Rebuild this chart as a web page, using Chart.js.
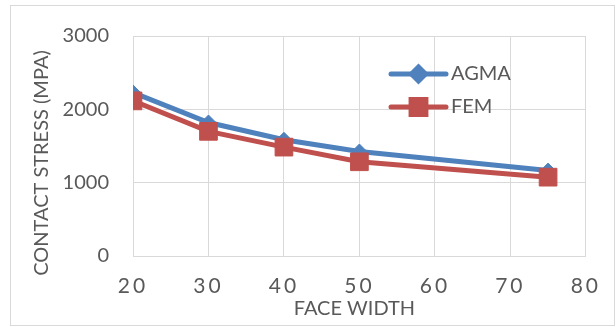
<!DOCTYPE html>
<html>
<head>
<meta charset="utf-8">
<script src="https://cdn.jsdelivr.net/npm/chart.js@4.4.1/dist/chart.umd.min.js"></script>
<style>
  html, body { margin: 0; padding: 0; background: #ffffff; }
  #wrap { width: 616px; height: 327px; position: relative; }
</style>
</head>
<body>
<div id="wrap"><canvas id="chart" width="616" height="327"></canvas></div>
<script>
// Face width (mm) and contact stress (MPa) for each method
const faceWidths = [20, 30, 40, 50, 75];
const agmaStress = [2230, 1820, 1585, 1425, 1165];
const femStress  = [2115, 1700, 1485, 1285, 1075];

const xTicks = [20, 30, 40, 50, 60, 70, 80];
const yTicks = [0, 1000, 2000, 3000];

const seriesNames = ['AGMA', 'FEM'];

const BLUE = '#4f81bd';
const RED = '#c0504d';
const TEXT = '#595959';
const GRID = '#d9d9d9';

const toPoints = (xs, ys) => xs.map((x, i) => ({ x: x, y: ys[i] }));

// Outer frame and white background
const framePlugin = {
  id: 'frame',
  beforeDraw(chart) {
    const ctx = chart.ctx;
    ctx.save();
    ctx.fillStyle = '#ffffff';
    ctx.fillRect(0, 0, chart.width, chart.height);
    ctx.strokeStyle = GRID;
    ctx.lineWidth = 1;
    ctx.strokeRect(10.5, 5.5, chart.width - 12, chart.height - 7);
    ctx.restore();
  }
};

// Axis text tweaks: spaced digits on the x labels, shifted axis titles
const axisTextPlugin = {
  id: 'axisText',
  beforeDraw(chart) {
    const xs = chart.scales.x;
    const ys = chart.scales.y;
    if (xs._tweaked) return;
    const drawX = xs.drawLabels.bind(xs);
    xs.drawLabels = function (area) {
      const c = this.ctx;
      const prev = c.letterSpacing;
      c.letterSpacing = '3px';
      drawX(area);
      c.letterSpacing = prev || '0px';
    };
    const titleX = xs.drawTitle.bind(xs);
    xs.drawTitle = function () {
      this.ctx.save();
      this.ctx.translate(-5, 0);
      titleX();
      this.ctx.restore();
    };
    const titleY = ys.drawTitle.bind(ys);
    ys.drawTitle = function () {
      this.ctx.save();
      this.ctx.translate(0, 17);
      titleY();
      this.ctx.restore();
    };
    xs._tweaked = true;
  }
};

// Legend drawn inside the plot area, entries stacked vertically
const innerLegendPlugin = {
  id: 'innerLegend',
  afterDraw(chart) {
    const ctx = chart.ctx;
    const entries = chart.data.datasets.filter(d => seriesNames.includes(d.label));
    const x0 = 391, x1 = 446, rowY = [74, 107];
    ctx.save();
    seriesNames.forEach((name, i) => {
      const ds = entries.find(d => d.label === name);
      const y = rowY[i];
      ctx.strokeStyle = ds.borderColor;
      ctx.lineWidth = ds.borderWidth;
      ctx.lineCap = 'round';
      ctx.beginPath();
      ctx.moveTo(x0, y);
      ctx.lineTo(x1, y);
      ctx.stroke();
      Chart.helpers.drawPoint(ctx, {
        pointStyle: ds.pointStyle,
        radius: ds.legendRadius,
        rotation: 0,
        borderWidth: 1
      }, (x0 + x1) / 2, y);
      ctx.fillStyle = ds.pointBackgroundColor;
      ctx.strokeStyle = ds.pointBorderColor;
      ctx.lineWidth = 1;
      ctx.fill();
      ctx.stroke();
      ctx.fillStyle = TEXT;
      ctx.font = '20px Lato';
      ctx.textBaseline = 'middle';
      ctx.textAlign = 'left';
      ctx.fillText(name, x1 + 5, y);
    });
    ctx.restore();
  }
};

new Chart(document.getElementById('chart'), {
  type: 'line',
  data: {
    datasets: [
      {
        label: 'AGMA',
        data: toPoints(faceWidths, agmaStress),
        borderColor: BLUE,
        backgroundColor: BLUE,
        borderWidth: 5,
        pointStyle: 'rectRot',
        pointRadius: 7.5,
        legendRadius: 7,
        pointBackgroundColor: BLUE,
        pointBorderColor: BLUE,
        pointBorderWidth: 1,
        tension: 0,
        order: 2
      },
      {
        label: 'FEM edge',
        data: toPoints(faceWidths, femStress),
        borderColor: '#ffffff',
        borderWidth: 7,
        pointRadius: 0,
        tension: 0,
        order: 1
      },
      {
        label: 'FEM',
        data: toPoints(faceWidths, femStress),
        borderColor: RED,
        backgroundColor: RED,
        borderWidth: 5,
        pointStyle: 'rect',
        pointRadius: 12.5,
        legendRadius: 10.5,
        pointBackgroundColor: RED,
        pointBorderColor: RED,
        pointBorderWidth: 1,
        tension: 0,
        order: 0
      }
    ]
  },
  options: {
    responsive: false,
    animation: false,
    events: [],
    layout: { padding: { left: 20, right: 30, top: 36, bottom: 6 } },
    plugins: {
      legend: { display: false },
      tooltip: { enabled: false },
      title: { display: false }
    },
    scales: {
      x: {
        type: 'linear',
        min: xTicks[0],
        max: xTicks[xTicks.length - 1],
        afterBuildTicks: s => { s.ticks = xTicks.map(v => ({ value: v })); },
        afterFit: s => { s.height = 65; },
        grid: { color: GRID, lineWidth: 1, drawTicks: false },
        border: { color: GRID, width: 1 },
        ticks: {
          color: TEXT,
          font: { family: 'Lato', size: 21 },
          padding: 18,
          maxRotation: 0,
          callback: v => String(v)
        },
        title: {
          display: true,
          text: 'FACE WIDTH',
          color: TEXT,
          font: { family: 'Lato', size: 20 },
          padding: { top: 0, bottom: 0 }
        }
      },
      y: {
        min: yTicks[0],
        max: yTicks[yTicks.length - 1],
        afterBuildTicks: s => { s.ticks = yTicks.map(v => ({ value: v })); },
        afterFit: s => { s.width = 113; },
        grid: { color: GRID, lineWidth: 1, drawTicks: false },
        border: { color: GRID, width: 1 },
        ticks: {
          color: TEXT,
          font: { family: 'Lato', size: 20 },
          padding: 24,
          callback: v => String(v)
        },
        title: {
          display: true,
          text: 'CONTACT STRESS (MPA)',
          color: TEXT,
          font: { family: 'Lato', size: 20 },
          padding: { top: 10, bottom: 0 }
        }
      }
    }
  },
  plugins: [framePlugin, axisTextPlugin, innerLegendPlugin]
});
</script>
</body>
</html>
